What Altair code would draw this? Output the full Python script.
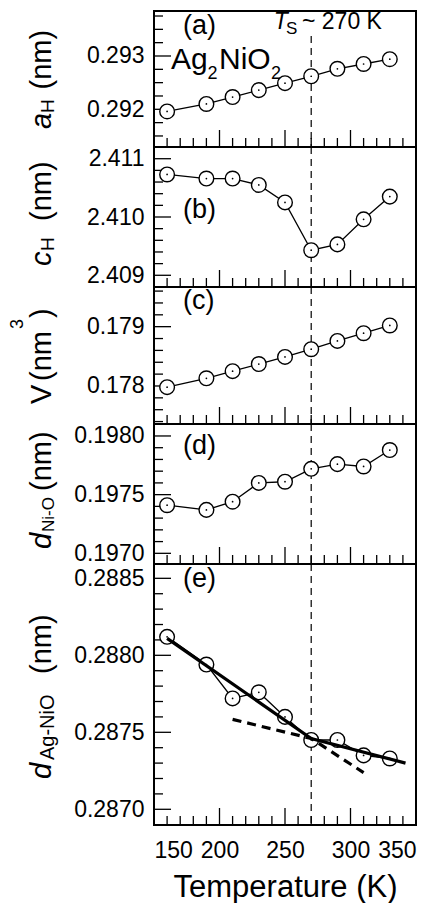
import altair as alt
import pandas as pd

FONT = "Liberation Sans"

# ---------------- data ----------------
T = [160, 190, 210, 230, 250, 270, 290, 310, 330]
a_H = [0.29196, 0.29210, 0.29223, 0.29236, 0.29249, 0.29262, 0.29276, 0.29285, 0.29294]
c_H = [2.41073, 2.41066, 2.41066, 2.41055, 2.41025, 2.40943, 2.40953, 2.40996, 2.41035]
V = [0.17798, 0.17813, 0.17825, 0.17837, 0.17849, 0.17862, 0.17876, 0.17889, 0.17902]
d_NiO = [0.19741, 0.19737, 0.19744, 0.19760, 0.19761, 0.19772, 0.19776, 0.19774, 0.19788]
d_AgNiO = [0.28812, 0.28794, 0.28772, 0.28776, 0.28760, 0.28745, 0.28745, 0.28735, 0.28733]

fit_T = [160, 270, 342]
fit_d = [0.28811, 0.28746, 0.28730]
ext_T = [210, 270, 310]
ext_d = [0.287584, 0.28746, 0.287238]

T_S = [270]

x_major = [150, 200, 250, 300, 350]
x_minor = [160, 170, 180, 190, 210, 220, 230, 240, 260, 270, 280, 290, 310, 320, 330, 340]

a_major = [0.292, 0.293]
a_minor = [0.2915, 0.29175, 0.29225, 0.2925, 0.29275, 0.29325, 0.2935, 0.29375]
c_major = [2.409, 2.410, 2.411]
c_minor = [2.4092, 2.4094, 2.4096, 2.4098, 2.4102, 2.4104, 2.4106, 2.4108]
V_major = [0.178, 0.179]
V_minor = [0.1774, 0.1776, 0.1778, 0.1782, 0.1784, 0.1786, 0.1788, 0.1792, 0.1794, 0.1796]
d_major = [0.1970, 0.1975, 0.1980]
d_minor = [0.1971, 0.1972, 0.1973, 0.1974, 0.1976, 0.1977, 0.1978, 0.1979]
e_major = [0.2870, 0.2875, 0.2880, 0.2885]
e_minor = [0.2871, 0.2872, 0.2873, 0.2874, 0.2876, 0.2877, 0.2878, 0.2879,
           0.2881, 0.2882, 0.2883, 0.2884]

W = 262
xscale = alt.Scale(domain=[150, 350], nice=False, zero=False)


def txt(s, x, y, size, style="normal", angle=0, align="left", baseline="alphabetic"):
    return alt.Chart(pd.DataFrame({"k": [0]})).mark_text(
        text=s, font=FONT, fontSize=size, fontStyle=style, angle=angle,
        align=align, baseline=baseline, color="black"
    ).encode(x=alt.value(x), y=alt.value(y))


def panel(vals, dom, major, minor, h, fmt, show_x=False, extra=None, texts=None, vtop=0):
    ys = alt.Scale(domain=dom, nice=False, zero=False)
    yax = alt.Axis(values=major, format=fmt, ticks=False, domain=False, grid=False,
                   labelFont=FONT, labelFontSize=23, labelColor="black",
                   labelPadding=10, title=None)
    if show_x:
        xax = alt.Axis(values=x_major, format="d", ticks=False, domain=False, grid=False,
                       labelFont=FONT, labelFontSize=23, labelColor="black",
                       labelPadding=14, title="Temperature (K)", titleFont=FONT,
                       titleFontSize=31, titleFontWeight="normal", titleColor="black",
                       titlePadding=10)
    else:
        xax = None
    X = alt.X("T:Q", scale=xscale, axis=xax)
    Y = alt.Y("v:Q", scale=ys, axis=yax)

    df = pd.DataFrame({"T": T, "v": vals})
    layers = []
    # inward ticks
    layers.append(alt.Chart(pd.DataFrame({"v": major})).mark_rule(color="black", strokeWidth=1.3)
                  .encode(y=Y, x=alt.value(0), x2=alt.value(17)))
    layers.append(alt.Chart(pd.DataFrame({"v": minor})).mark_rule(color="black", strokeWidth=1.3)
                  .encode(y=Y, x=alt.value(0), x2=alt.value(9)))
    layers.append(alt.Chart(pd.DataFrame({"T": x_major})).mark_rule(color="black", strokeWidth=1.3)
                  .encode(x=X, y=alt.value(h), y2=alt.value(h - 17)))
    layers.append(alt.Chart(pd.DataFrame({"T": x_minor})).mark_rule(color="black", strokeWidth=1.3)
                  .encode(x=X, y=alt.value(h), y2=alt.value(h - 9)))
    # T_S dashed line
    layers.append(alt.Chart(pd.DataFrame({"T": T_S})).mark_rule(color="black", strokeWidth=1.2,
                                                                 strokeDash=[7, 5])
                  .encode(x=X, y=alt.value(vtop), y2=alt.value(h)))
    base = alt.Chart(df).encode(x=X, y=Y)
    layers.append(base.mark_line(color="black", strokeWidth=1.3))
    layers.append(base.mark_point(shape="circle", size=215, filled=True, fill="white",
                                  stroke="black", strokeWidth=1.4, opacity=1))
    if extra:
        layers += extra(X, Y)
    layers.append(base.mark_point(shape="circle", size=3, filled=True, color="black", opacity=1))
    if texts:
        layers += texts
    return alt.layer(*layers).properties(width=W, height=h)


def fits(X, Y):
    fdf = pd.DataFrame({"T": fit_T, "v": fit_d})
    edf = pd.DataFrame({"T": ext_T, "v": ext_d})
    return [
        alt.Chart(fdf).mark_line(color="black", strokeWidth=3.2).encode(x=X, y=Y),
        alt.Chart(edf).mark_line(color="black", strokeWidth=3.2, strokeDash=[9, 6]).encode(x=X, y=Y),
    ]


TB = -103   # title baseline (px from plot left)
SB = -100   # subscript baseline
pa = panel(a_H, [0.291293, 0.293844], a_major, a_minor, 136, ".3f", vtop=25, texts=[
    txt("(a)", 29, 23, 27),
    txt("Ag", 17, 58, 30), txt("2", 53.5, 68, 18), txt("NiO", 65, 58, 30), txt("2", 117, 68, 18),
    txt("T", 119.7, 18.3, 23, style="italic"), txt("S", 132, 23, 17),
    txt("~ 270 K", 148, 18.3, 23),
    txt("a", TB, 118, 29, style="italic", angle=270), txt("H", SB, 102, 19, angle=270),
    txt("(nm)", TB, 78.5, 29, angle=270),
])
pb = panel(c_H, [2.408799, 2.411201], c_major, c_minor, 140, ".3f", texts=[
    txt("(b)", 29, 71.3, 27),
    txt("c", TB, 119, 29, style="italic", angle=270), txt("H", SB, 104, 19, angle=270),
    txt("(nm)", TB, 74, 29, angle=270),
])
pc = panel(V, [0.177359, 0.179669], V_major, V_minor, 137, ".3f", texts=[
    txt("(c)", 29, 21.6, 27),
    txt("V", TB, 117, 29, angle=270), txt("(nm", TB, 94, 29, angle=270),
    txt("3", -131, 42, 18, angle=270), txt(")", TB, 31, 29, angle=270),
])
pd_ = panel(d_NiO, [0.196909, 0.198102], d_major, d_minor, 140, ".4f", texts=[
    txt("(d)", 29, 29.6, 27),
    txt("d", TB, 125, 29, style="italic", angle=270), txt("Ni-O", SB, 108, 17, angle=270),
    txt("(nm)", TB, 67, 29, angle=270),
])
pe = panel(d_AgNiO, [0.286898, 0.288593], e_major, e_minor, 261, ".4f", show_x=True,
           extra=fits, texts=[
    txt("(e)", 29, 23, 27),
    txt("d", TB, 215, 29, style="italic", angle=270), txt("Ag-NiO", SB, 196, 20, angle=270),
    txt("(nm)", TB, 110, 29, angle=270),
])

chart = alt.vconcat(pa, pb, pc, pd_, pe, spacing=0, bounds="flush").properties(
    padding={"left": 0, "top": 2, "right": 5, "bottom": 0},
    background="white",
).configure_view(stroke="black", strokeWidth=2)

chart.save("out.html", embed_options={"renderer": "svg", "actions": False})
